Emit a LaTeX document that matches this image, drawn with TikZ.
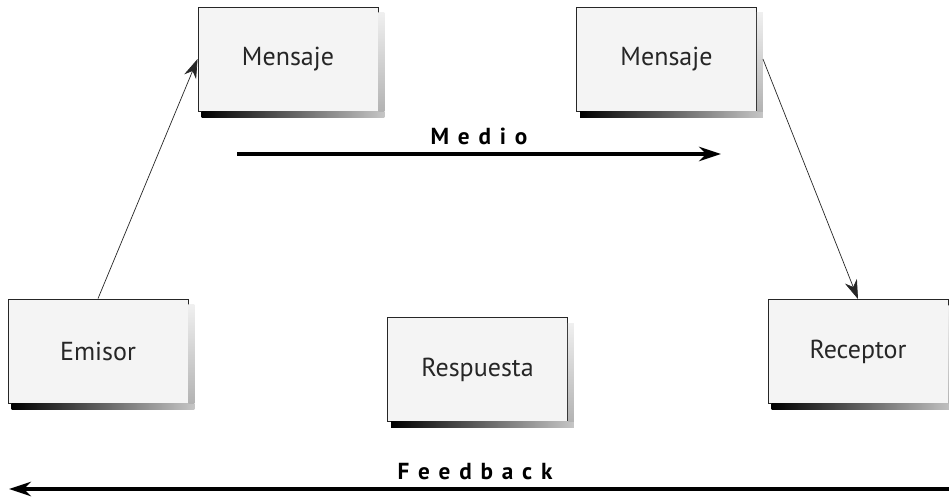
\documentclass[tikz,border=0pt]{standalone}
\usepackage{fontspec}
\setmainfont{PT Sans}
\newfontfamily\labelfont[LetterSpace=38]{PT Sans Bold}
\usepackage{tikz}
\usetikzlibrary{arrows.meta,calc,positioning}
\tikzset{
  stage/.style={draw=black!85, line width=0.6pt, fill=gray!9, minimum width=4.5cm, minimum height=2.6cm, align=center, font=\fontsize{18.5}{22}\selectfont, text=black!85},
  link/.style={-{Stealth[length=0.48cm, width=0.32cm]}, line width=0.5pt, black!85},
  channel/.style={-{Stealth[length=0.55cm, width=0.36cm]}, line width=2.2pt, black},
  tag/.style={font=\labelfont\fontsize{16.5}{19}\selectfont, inner sep=5.5pt}
}

\begin{document}
\begin{tikzpicture}[x=0.025cm,y=-0.025cm]
  \useasboundingbox (0,0) rectangle (949,496);

  \node[stage] (emisor) at (98,351) {Emisor};
  \node[stage] (msgA) at (288,59) {Mensaje};
  \node[stage] (msgB) at (666.5,59) {Mensaje};
  \node[stage] (respuesta) at (477.5,369.5) {Respuesta};
  \node[stage] (receptor) at (858,351.5) {Receptor};

  % shadows under and beside each box
  \foreach \n in {emisor,msgA,msgB,respuesta,receptor}{
    \shade[left color=black, right color=gray!45]
      ([xshift=0.1cm]\n.south west) rectangle ([xshift=0.15cm,yshift=-0.15cm]\n.south east);
    \shade[top color=gray!12, bottom color=gray!60]
      ([yshift=-0.15cm]\n.north east) rectangle ([xshift=0.15cm]\n.south east);
  }

  \draw[link] (emisor.north) -- (msgA.west);
  \draw[link] ([xshift=0.15cm]msgB.east) -- (receptor.north);

  \coordinate (medioA) at (237,154);
  \coordinate (medioB) at (721,154);
  \draw[channel] (medioA) -- node[tag, above] {Medio} (medioB);

  \coordinate (feedA) at (949,489);
  \coordinate (feedB) at (9,489);
  \draw[channel] (feedA) -- node[tag, above, xshift=-0.1cm] {Feedback} (feedB);
\end{tikzpicture}
\end{document}
